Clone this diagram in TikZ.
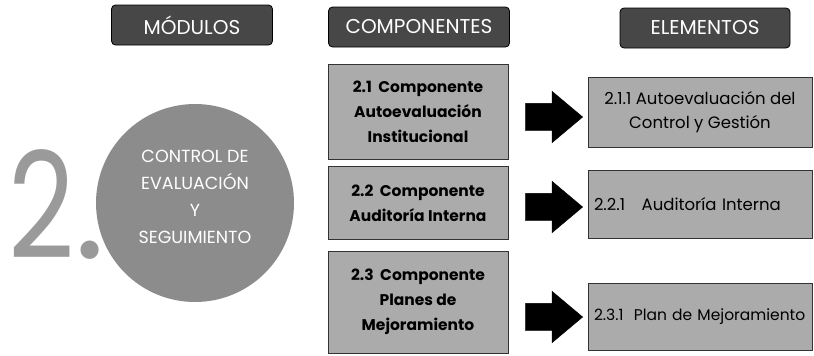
\documentclass[tikz,border=0pt]{standalone}
\usepackage{fontspec}
\setmainfont{Poppins}
\usepackage{tikz}
\usetikzlibrary{shapes.arrows}
\definecolor{HeadGray}{HTML}{474747}
\definecolor{BoxGray}{HTML}{ABABAB}
\definecolor{DiscGray}{HTML}{8C8C8C}
\definecolor{NumGray}{HTML}{9A9A9A}
\tikzset{
  headbox/.style={draw=black,thick,fill=HeadGray,rounded corners=4pt,text=white,
    font=\fontsize{20}{20}\selectfont,inner sep=0pt},
  compbox/.style={draw=black!80,thick,fill=BoxGray,inner sep=0pt,align=center,
    font=\fontsize{15.5}{25}\selectfont\bfseries},
  elembox/.style={draw=black!80,thick,fill=BoxGray,inner sep=0pt,
    font=\fontsize{16.5}{24}\selectfont},
  blockarrow/.style={single arrow,fill=black,draw=black,minimum height=57pt,
    inner xsep=0pt,inner ysep=13.5pt,single arrow head extend=12pt,
    single arrow tip angle=80}
}
\begin{document}
\begin{tikzpicture}[x=1pt,y=-1pt]
    \useasboundingbox (0,0) rectangle (814,356);

    % encabezados
    \node[headbox,minimum width=161pt,minimum height=40pt] (modulos) at (192,25) {MÓDULOS};
    \node[headbox,minimum width=181pt,minimum height=40pt] (componentes) at (419,27) {COMPONENTES};
    \node[headbox,minimum width=170pt,minimum height=40pt] (elementos) at (705,28) {ELEMENTOS};

    % modulo
    \node[text=NumGray,font=\fontsize{148}{148}\selectfont,anchor=base west,inner sep=0pt] (num) at (8,258)
      {\scalebox{0.78}[1]{2}.};
    \node[circle,fill=DiscGray,minimum size=198pt,inner sep=0pt] (control) at (195,203) {};
    \node[text=white,align=center,font=\fontsize{17.5}{27}\selectfont] (controltxt) at (195,197)
      {CONTROL DE\\EVALUACIÓN\\Y\\SEGUIMIENTO};

    % componentes
    \node[compbox,minimum width=180pt,minimum height=95pt] (comp1) at (418,112)
      {2.1\ \ Componente\\Autoevaluación\\Institucional};
    \node[compbox,minimum width=180pt,minimum height=73pt] (comp2) at (418,203)
      {2.2\ \ Componente\\Auditoría Interna};
    \node[compbox,minimum width=180pt,minimum height=102pt] (comp3) at (418,302)
      {2.3\ \ Componente\\Planes de\\Mejoramiento};

    % elementos
    \node[elembox,minimum width=224pt,minimum height=70pt,align=center] (elem1) at (700,112)
      {2.1.1 Autoevaluación del\\Control y Gestión};
    \node[elembox,minimum width=224pt,minimum height=68pt,text width=212pt,align=left] (elem2) at (700,204)
      {\mbox{2.2.1\ \ \ Auditoría Interna}};
    \node[elembox,minimum width=224pt,minimum height=67pt,text width=212pt,align=left,
      font=\fontsize{15.5}{24}\selectfont] (elem3) at (700,317)
      {\mbox{2.3.1\ \ Plan de Mejoramiento}};

    % flechas
    \node[blockarrow] (flecha1) at (546,117) {};
    \node[blockarrow] (flecha2) at (546,207) {};
    \node[blockarrow] (flecha3) at (546,317) {};
\end{tikzpicture}
\end{document}
